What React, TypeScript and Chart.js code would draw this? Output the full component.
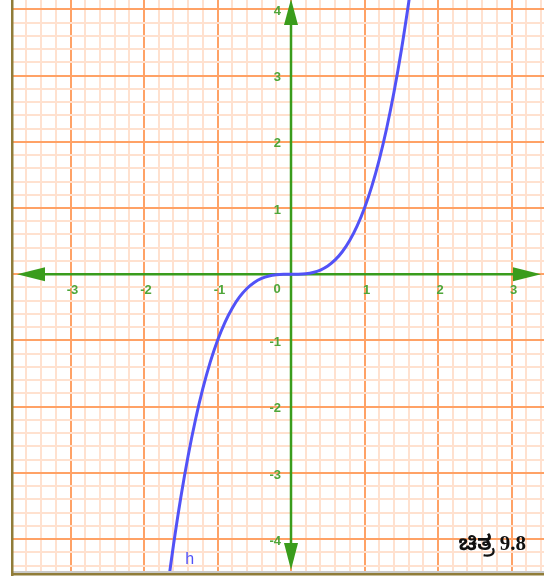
import React, { useEffect, useRef } from "react";
import { Chart, registerables } from "chart.js";

Chart.register(...registerables);

// Points of the curve h (x, y)
const CURVE_X = [
  -1.66, -1.6, -1.5, -1.4, -1.3, -1.2, -1.1, -1.0, -0.9, -0.8, -0.7, -0.6, -0.5, -0.4, -0.3, -0.2, -0.1,
  0, 0.1, 0.2, 0.3, 0.4, 0.5, 0.6, 0.7, 0.8, 0.9, 1.0, 1.1, 1.2, 1.3, 1.4, 1.5, 1.6, 1.63,
];
const CURVE_Y = [
  -4.574, -4.096, -3.375, -2.744, -2.197, -1.728, -1.331, -1.0, -0.729, -0.512, -0.343, -0.216, -0.125,
  -0.064, -0.027, -0.008, -0.001, 0, 0.001, 0.008, 0.027, 0.064, 0.125, 0.216, 0.343, 0.512, 0.729, 1.0,
  1.331, 1.728, 2.197, 2.744, 3.375, 4.096, 4.331,
];

// Axis labels
const X_LABELS = [-3, -2, -1, 0, 1, 2, 3];
const Y_LABELS = [-4, -3, -2, -1, 1, 2, 3, 4];

const X_MIN = -3.796;
const X_MAX = 3.442;
const Y_MIN = -4.51;
const Y_MAX = 4.14;
const MINOR_STEP = 0.2;

const GREEN = "#3a9c1c";
const LABEL_GREEN = "#4ea63a";
const BLUE = "#5252f7";

function gridTicks(min: number, max: number) {
  const out: { value: number }[] = [];
  const start = Math.ceil(min / MINOR_STEP - 1e-9);
  const end = Math.floor(max / MINOR_STEP + 1e-9);
  for (let i = start; i <= end; i++) out.push({ value: +(i * MINOR_STEP).toFixed(4) });
  return out;
}

function isMajor(v: number) {
  return Math.abs(v - Math.round(v)) < 1e-6;
}

const gridColor = (ctx: any) => (ctx.tick && isMajor(ctx.tick.value) ? "#ffa266" : "#ffe1cf");

const axesPlugin = {
  id: "axesPlugin",
  beforeDatasetsDraw(chart: any) {
    const { ctx, scales, chartArea } = chart;
    const xs = scales.x;
    const ys = scales.y;
    const x0 = xs.getPixelForValue(0);
    const y0 = ys.getPixelForValue(0);
    ctx.save();
    ctx.strokeStyle = GREEN;
    ctx.fillStyle = GREEN;
    ctx.lineWidth = 2.5;

    // horizontal axis with arrows on both ends
    const hl = 17;
    const hr = 541;
    ctx.beginPath();
    ctx.moveTo(hl + 20, y0);
    ctx.lineTo(hr - 20, y0);
    ctx.stroke();
    ctx.beginPath();
    ctx.moveTo(hl, y0);
    ctx.lineTo(hl + 28, y0 - 7);
    ctx.lineTo(hl + 28, y0 + 7);
    ctx.closePath();
    ctx.fill();
    ctx.beginPath();
    ctx.moveTo(hr, y0);
    ctx.lineTo(hr - 28, y0 - 7);
    ctx.lineTo(hr - 28, y0 + 7);
    ctx.closePath();
    ctx.fill();

    // vertical axis with arrows on both ends
    const vt = chartArea.top - 1;
    const vb = 570;
    ctx.beginPath();
    ctx.moveTo(x0, vt + 20);
    ctx.lineTo(x0, vb - 20);
    ctx.stroke();
    ctx.beginPath();
    ctx.moveTo(x0, vt);
    ctx.lineTo(x0 - 7, vt + 26);
    ctx.lineTo(x0 + 7, vt + 26);
    ctx.closePath();
    ctx.fill();
    ctx.beginPath();
    ctx.moveTo(x0, vb);
    ctx.lineTo(x0 - 7, vb - 27);
    ctx.lineTo(x0 + 7, vb - 27);
    ctx.closePath();
    ctx.fill();

    // tick labels
    ctx.fillStyle = LABEL_GREEN;
    ctx.font = "bold 13px 'Liberation Sans', Arial, sans-serif";
    ctx.textBaseline = "middle";
    ctx.textAlign = "center";
    X_LABELS.forEach((v) => {
      const px = xs.getPixelForValue(v);
      if (v === 0) {
        ctx.fillText("0", px - 14, y0 + 15);
      } else {
        ctx.fillText(String(v), px + 2, y0 + 16);
      }
    });
    ctx.textAlign = "right";
    Y_LABELS.forEach((v) => {
      const py = ys.getPixelForValue(v);
      ctx.fillText(String(v), x0 - 10, py + 2);
    });
    ctx.restore();
  },
  afterDraw(chart: any) {
    const { ctx, scales } = chart;
    ctx.save();
    // curve name
    ctx.fillStyle = BLUE;
    ctx.font = "16px 'Liberation Sans', Arial, sans-serif";
    ctx.textAlign = "left";
    ctx.textBaseline = "middle";
    ctx.fillText("h", scales.x.getPixelForValue(-1.44), 560);

    // figure caption
    ctx.fillStyle = "#111";
    ctx.font = "bold 21px 'Liberation Serif', 'Noto Sans Kannada', serif";
    ctx.textAlign = "right";
    ctx.textBaseline = "alphabetic";
    ctx.fillText("ಚಿತ್ರ 9.8", 526, 550);

    // frame
    ctx.fillStyle = "#c9c9c9";
    ctx.fillRect(12, 571, 532, 2);
    ctx.fillStyle = "#907c38";
    ctx.fillRect(11, 0, 2.5, 576);
    ctx.fillRect(11, 573, 533, 2.5);
    ctx.restore();
  },
};

export default function App() {
  const canvasRef = useRef<HTMLCanvasElement | null>(null);

  useEffect(() => {
    if (!canvasRef.current) return;
    const data = CURVE_X.map((x, i) => ({ x, y: CURVE_Y[i] }));
    const chart = new Chart(canvasRef.current, {
      type: "scatter",
      data: {
        datasets: [
          {
            label: "h",
            data,
            showLine: true,
            borderColor: BLUE,
            borderWidth: 3,
            pointRadius: 0,
            cubicInterpolationMode: "monotone",
          } as any,
        ],
      },
      plugins: [axesPlugin],
      options: {
        animation: false,
        responsive: false,
        devicePixelRatio: 1,
        layout: { padding: { left: 12, right: 0, top: 0, bottom: 7 } },
        plugins: { legend: { display: false }, tooltip: { enabled: false } },
        scales: {
          x: {
            type: "linear",
            min: X_MIN,
            max: X_MAX,
            afterBuildTicks: (scale: any) => {
              scale.ticks = gridTicks(X_MIN, X_MAX);
            },
            ticks: { display: false },
            border: { display: false },
            grid: { color: gridColor, lineWidth: 2, drawTicks: false },
          },
          y: {
            type: "linear",
            min: Y_MIN,
            max: Y_MAX,
            afterBuildTicks: (scale: any) => {
              scale.ticks = gridTicks(Y_MIN, Y_MAX);
            },
            ticks: { display: false },
            border: { display: false },
            grid: { color: gridColor, lineWidth: 2, drawTicks: false },
          },
        },
      },
    });
    return () => chart.destroy();
  }, []);

  return (
    <div style={{ position: "absolute", left: 0, top: 0, width: 544, height: 580, background: "#fff" }}>
      <canvas ref={canvasRef} width={544} height={580} style={{ display: "block" }} />
    </div>
  );
}
